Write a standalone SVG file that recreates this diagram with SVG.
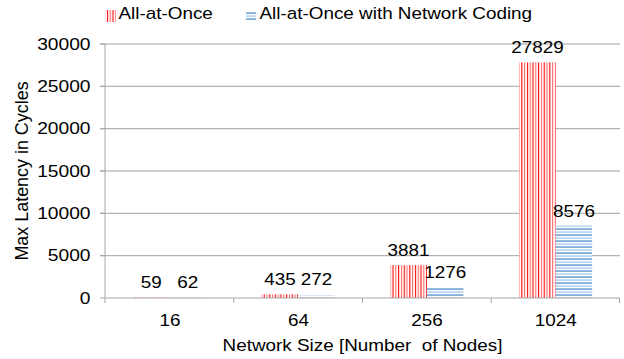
<svg xmlns="http://www.w3.org/2000/svg" width="624" height="359" viewBox="0 0 624 359">
<style>
text{font-family:"Liberation Sans",Arial,sans-serif;font-size:16px;fill:#000}
.grid{stroke:#A0A0A0;stroke-width:1;fill:none}
.axis{stroke:#A6A6A6;stroke-width:1;fill:none}
.m{text-anchor:middle}
.e{text-anchor:end}
</style>
<defs>
<pattern id="red" patternUnits="userSpaceOnUse" x="0.5" y="0" width="5.6" height="10">
<rect x="0" y="0" width="5.6" height="10" fill="#fff"/>
<rect x="0" y="0" width="1.1" height="10" fill="#FF0000"/>
<rect x="2.8" y="0" width="1.1" height="10" fill="#FF6A6A"/>
</pattern>
<pattern id="blue" patternUnits="userSpaceOnUse" x="0" y="0" width="10" height="6">
<rect x="0" y="0" width="10" height="6" fill="#fff"/>
<rect x="0" y="0.5" width="10" height="1.1" fill="#2E78C0"/>
<rect x="0" y="3.5" width="10" height="1.1" fill="#8EC0E8"/>
</pattern>
</defs>

<g id="legend">
<g id="legend-red">
<rect x="105" y="10" width="11" height="12" fill="url(#red)"/>
<text transform="translate(118.5,18.5) scale(1.18,1)">All-at-Once</text>
</g>
<g id="legend-blue">
<rect x="246" y="11" width="10" height="10" fill="url(#blue)"/>
<text transform="translate(259.5,18.5) scale(1.18,1)">All-at-Once with Network Coding</text>
</g>
</g>

<g id="gridlines">
<path class="grid" d="M100 44H620M100 86.3H620M100 128.7H620M100 171H620M100 213.3H620M100 255.7H620"/>
</g>

<g id="y-labels">
<text class="e" transform="translate(90.5,49.5) scale(1.2,1)">30000</text>
<text class="e" transform="translate(90.5,91.8) scale(1.2,1)">25000</text>
<text class="e" transform="translate(90.5,134.2) scale(1.2,1)">20000</text>
<text class="e" transform="translate(90.5,176.5) scale(1.2,1)">15000</text>
<text class="e" transform="translate(90.5,218.8) scale(1.2,1)">10000</text>
<text class="e" transform="translate(90.5,261.2) scale(1.2,1)">5000</text>
<text class="e" transform="translate(90.5,303.5) scale(1.2,1)">0</text>
</g>

<g id="bars">
<g id="bar-16"><rect x="132.9" y="297.5" width="36.5" height="0.5" fill="url(#red)"/><rect x="169.4" y="297.5" width="36.5" height="0.5" fill="url(#blue)"/></g>
<g id="bar-64"><rect x="261.6" y="294.3" width="36.5" height="3.7" fill="url(#red)"/><rect x="298.1" y="295.7" width="36.5" height="2.3" fill="url(#blue)"/></g>
<g id="bar-256"><rect x="390.4" y="265.1" width="36.5" height="32.9" fill="url(#red)"/><rect x="426.9" y="287.2" width="36.5" height="10.8" fill="url(#blue)"/></g>
<g id="bar-1024"><rect x="519.1" y="62.4" width="36.5" height="235.6" fill="url(#red)"/><rect x="555.6" y="225.4" width="36.5" height="72.6" fill="url(#blue)"/></g>
</g>

<g id="connectors">
<path class="axis" d="M105 44V298M100 44H105M100 86.3H105M100 128.7H105M100 171H105M100 213.3H105M100 255.7H105M100 298H620M105 298V303M233.75 298V303M362.5 298V303M491.25 298V303M619.5 298V303"/>
</g>

<g id="data-labels">
<text class="m" transform="translate(151.2,287.5) scale(1.18,1)">59</text>
<text class="m" transform="translate(187.7,287.5) scale(1.18,1)">62</text>
<text class="m" transform="translate(280,284.5) scale(1.18,1)">435</text>
<text class="m" transform="translate(316.4,284.5) scale(1.18,1)">272</text>
<text class="m" transform="translate(408.6,256) scale(1.18,1)">3881</text>
<text class="m" transform="translate(445.3,277.5) scale(1.18,1)">1276</text>
<text class="m" transform="translate(537.4,52.5) scale(1.18,1)">27829</text>
<text class="m" transform="translate(574,216.5) scale(1.18,1)">8576</text>
</g>

<g id="x-labels">
<text class="m" transform="translate(170,326) scale(1.18,1)">16</text>
<text class="m" transform="translate(298.5,326) scale(1.18,1)">64</text>
<text class="m" transform="translate(427,326) scale(1.18,1)">256</text>
<text class="m" transform="translate(555.8,326) scale(1.18,1)">1024</text>
</g>

<g id="axis-titles">
<text class="m" transform="translate(362.5,350.5) scale(1.18,1)">Network Size [Number&#160; of Nodes]</text>
<text class="m" transform="translate(28,171) rotate(-90) scale(1.12,1.2)">Max Latency in Cycles</text>
</g>
</svg>
